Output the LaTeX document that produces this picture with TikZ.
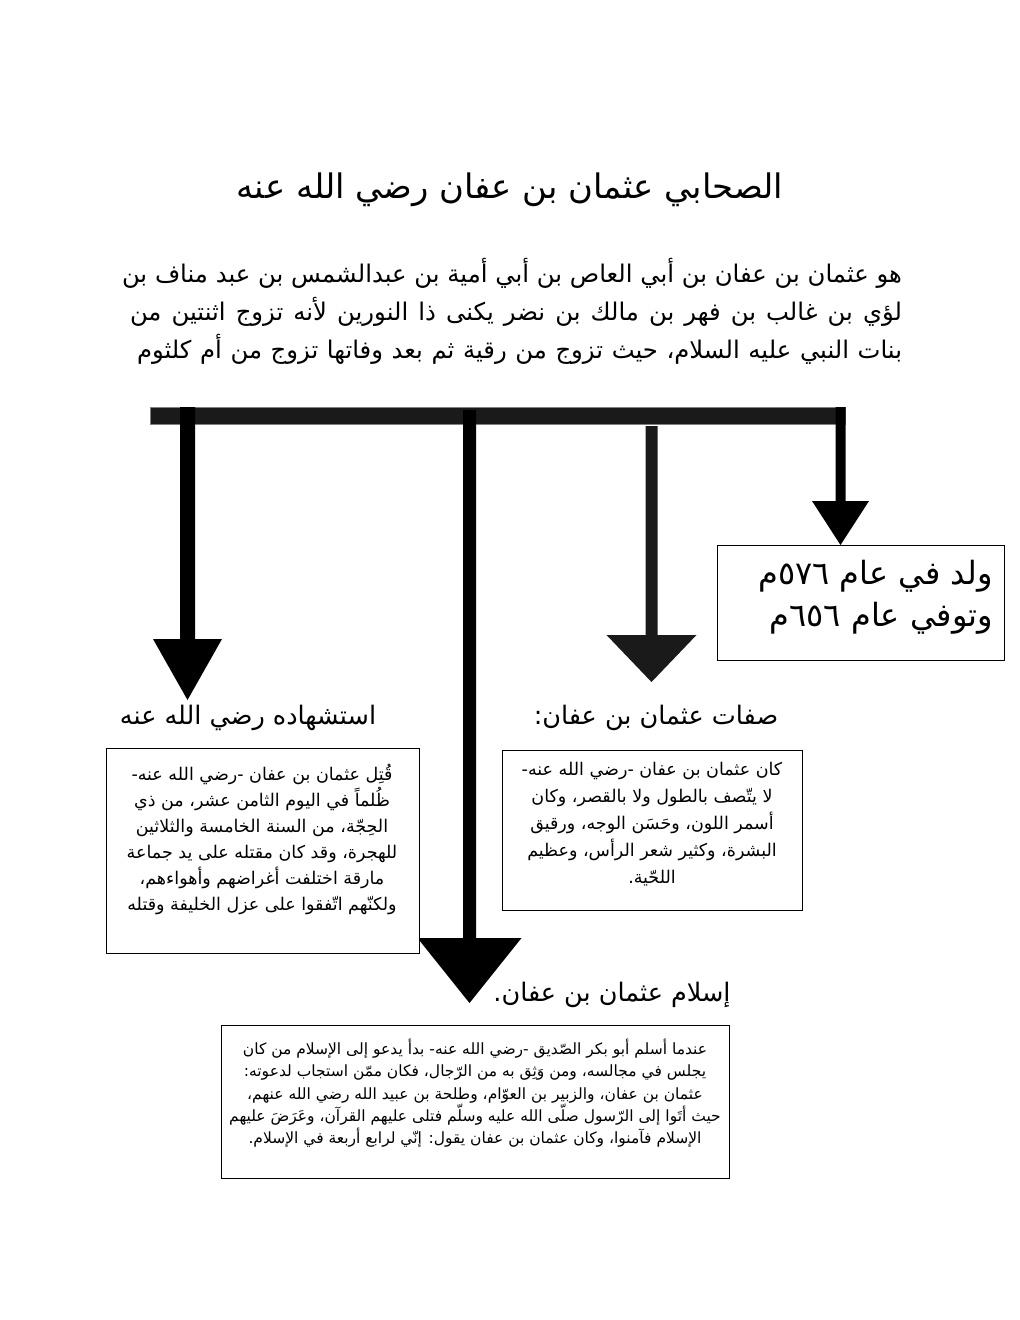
\documentclass[tikz,border=0pt]{standalone}
\usepackage{fontspec}
\newfontfamily\arabicfont[Script=Arabic]{DejaVu Sans}
\TeXXeTstate=1
\newcommand{\ar}[1]{\beginR #1\endR}
\newcommand{\arsize}[2]{\arabicfont\fontsize{#1}{#2}\selectfont}
\definecolor{bardark}{HTML}{1A1A1A}
\tikzset{
  txt/.style={inner sep=0pt, outer sep=0pt, text=black},
  infobox/.style={draw=black, line width=0.9pt, fill=white, inner sep=0pt},
}
\newcommand{\blockarrow}[7]{% color, xc, shaftw, ytop, yhead, headw, ytip
  \fill[#1] ({#2-#3/2},#4) -- ({#2+#3/2},#4) -- ({#2+#3/2},#5) -- ({#2+#6/2},#5)
    -- (#2,#7) -- ({#2-#6/2},#5) -- ({#2-#3/2},#5) -- cycle;}
\begin{document}
\begin{tikzpicture}[x=1pt,y=-1pt]
\useasboundingbox (0,0) rectangle (1020,1320);
\fill[white] (0,0) rectangle (1020,1320);

% title
\node[txt, font=\arsize{33.8}{40}] (title) at (510,190) {\beginR الصحابي عثمان بن عفان رضي الله عنه\endR};

% intro paragraph
\node[txt, anchor=north east, align=right, font=\arsize{24.3}{38}] (intro) at (902,258) {%
\hbox to 780pt{\beginR هو عثمان بن عفان بن أبي العاص بن أبي أمية بن عبدالشمس بن عبد مناف بن\endR}\\
\hbox to 772pt{\beginR لؤي بن غالب بن فهر بن مالك بن نضر يكنى ذا النورين لأنه تزوج اثنتين من\endR}\\
\hbox to 765pt{\beginR بنات النبي عليه السلام، حيث تزوج من رقية ثم بعد وفاتها تزوج من أم كلثوم\endR}};

% bar
\fill[bardark, draw=gray, line width=0.6pt] (150,407) rectangle (845,424);

% arrows
\blockarrow{black}{187.5}{15}{407}{639}{69}{700}
\blockarrow{black}{469.5}{13}{410}{938}{104}{1003}
\blockarrow{bardark}{651.5}{12}{426}{635}{90}{682}
\blockarrow{black}{840.5}{10}{407}{501}{57}{545}

% box: dates
\node[infobox, minimum width=287pt, minimum height=115pt, anchor=north west] (dates) at (717,545) {};
\node[txt, anchor=north east, align=right, font=\arsize{32}{42}] (datestxt) at (993,560) {%
\beginR ولد في عام ٥٧٦م\endR\\
\beginR وتوفي عام ٦٥٦م\endR};

% box: sifat
\node[txt, font=\arsize{25.5}{30}] (sifathead) at (656,718) {\beginR صفات عثمان بن عفان:\endR};
\node[infobox, minimum width=300pt, minimum height=160pt, anchor=north west] (sifat) at (502,750) {};
\node[txt, anchor=north, align=center, font=\arsize{17.5}{27}] (sifattxt) at (652,762) {%
\beginR كان عثمان بن عفان -رضي الله عنه-\endR\\
\beginR لا يتّصف بالطول ولا بالقصر، وكان\endR\\
\beginR أسمر اللون، وحَسَن الوجه، ورقيق\endR\\
\beginR البشرة، وكثير شعر الرأس، وعظيم\endR\\
\beginR اللحّية.\endR};

% box: istishhad
\node[txt, font=\arsize{25.5}{30}] (shahhead) at (248,718) {\beginR استشهاده رضي الله عنه\endR};
\node[infobox, minimum width=313pt, minimum height=205pt, anchor=north west] (shah) at (106,748) {};
\node[txt, anchor=north, align=center, font=\arsize{17.5}{26}] (shahtxt) at (262,764) {%
\beginR قُتِل عثمان بن عفان -رضي الله عنه-\endR\\
\beginR ظُلماً في اليوم الثامن عشر، من ذي\endR\\
\beginR الحِجّة، من السنة الخامسة والثلاثين\endR\\
\beginR للهجرة، وقد كان مقتله على يد جماعة\endR\\
\beginR مارقة اختلفت أغراضهم وأهواءهم،\endR\\
\beginR ولكنّهم اتّفقوا على عزل الخليفة وقتله\endR};

% box: islam
\node[txt, font=\arsize{25.5}{30}] (islamhead) at (612,995) {\beginR إسلام عثمان بن عفان.\endR};
\node[infobox, minimum width=508pt, minimum height=153pt, anchor=north west] (islam) at (221,1025) {};
\node[txt, anchor=north, align=center, font=\arsize{15.5}{22.3}] (islamtxt) at (475,1039) {%
\beginR عندما أسلم أبو بكر الصّديق -رضي الله عنه- بدأ يدعو إلى الإسلام من كان\endR\\
\beginR يجلس في مجالسه، ومن وَثِق به من الرّجال، فكان ممّن استجاب لدعوته:\endR\\
\beginR عثمان بن عفان، والزبير بن العوّام، وطلحة بن عبيد الله رضي الله عنهم،\endR\\
\beginR حيث أتَوا إلى الرّسول صلّى الله عليه وسلّم فتلى عليهم القرآن، وعَرَضَ عليهم\endR\\
\beginR الإسلام فآمنوا، وكان عثمان بن عفان يقول: إنّي لرابع أربعة في الإسلام.\endR};
\end{tikzpicture}
\end{document}
